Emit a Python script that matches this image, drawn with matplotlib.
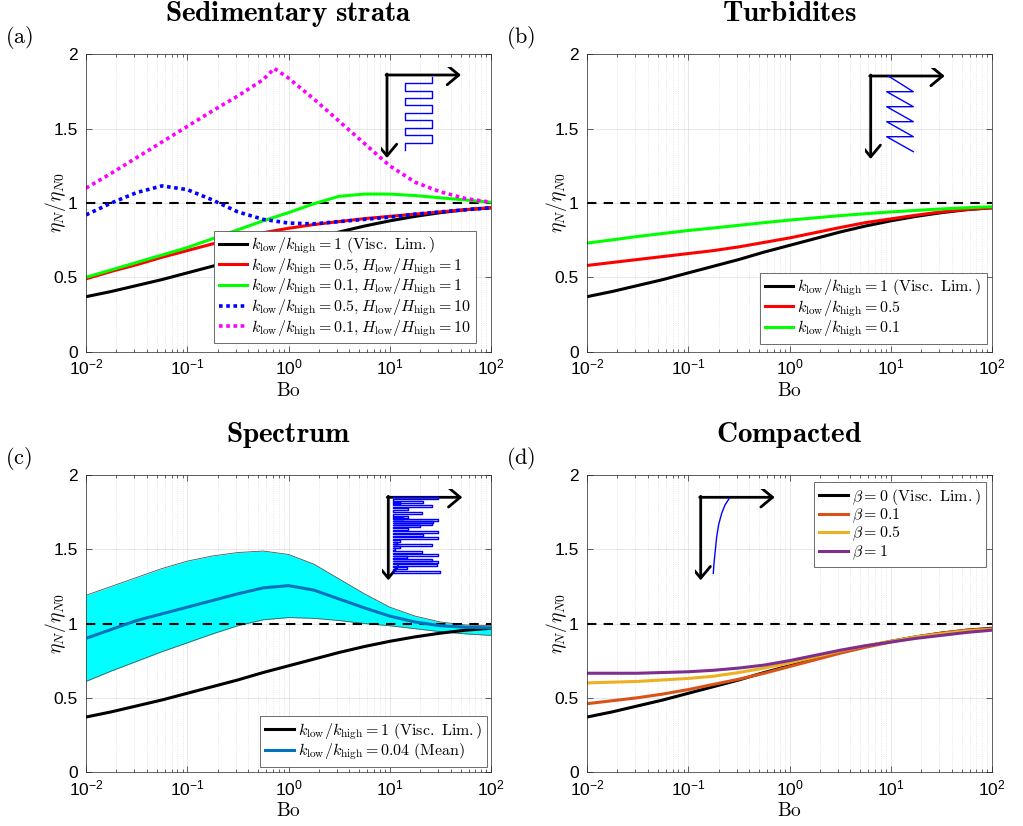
import numpy as np
import matplotlib
matplotlib.use('Agg')
import matplotlib.pyplot as plt
from matplotlib.ticker import LogLocator, NullFormatter
from matplotlib.patches import FancyArrowPatch

plt.rcParams['mathtext.fontset'] = 'cm'
plt.rcParams['mathtext.rm'] = 'Liberation Sans'
plt.rcParams['mathtext.it'] = 'Liberation Sans:italic'
plt.rcParams['mathtext.bf'] = 'Liberation Sans:bold'
plt.rcParams['axes.unicode_minus'] = False

# ---------------- data ----------------
log_bo = [-2, -1.75, -1.5, -1.25, -1, -0.75, -0.5, -0.25, 0, 0.25, 0.5, 0.75, 1, 1.25, 1.5, 1.75, 2]
visc_lim = [0.37, 0.405, 0.445, 0.485, 0.53, 0.575, 0.62, 0.67, 0.715, 0.76, 0.805, 0.845, 0.88, 0.91, 0.935, 0.955, 0.968]

# (a) Sedimentary strata
strata_r05_h1 = [0.49, 0.54, 0.585, 0.635, 0.68, 0.725, 0.765, 0.80, 0.83, 0.855, 0.875, 0.895, 0.91, 0.925, 0.94, 0.955, 0.968]
strata_r01_h1 = [0.50, 0.55, 0.60, 0.65, 0.70, 0.76, 0.82, 0.88, 0.935, 0.995, 1.045, 1.06, 1.06, 1.05, 1.035, 1.02, 1.005]
strata_r05_h10 = [0.92, 1.00, 1.07, 1.115, 1.09, 1.02, 0.94, 0.89, 0.865, 0.86, 0.875, 0.89, 0.905, 0.925, 0.94, 0.955, 0.968]
log_bo_m = [-2, -1.75, -1.5, -1.25, -1, -0.75, -0.5, -0.25, -0.14, 0, 0.25, 0.5, 0.75, 1, 1.25, 1.5, 1.75, 2]
strata_r01_h10 = [1.10, 1.20, 1.305, 1.41, 1.515, 1.62, 1.72, 1.83, 1.905, 1.84, 1.70, 1.55, 1.40, 1.25, 1.14, 1.075, 1.03, 1.005]

# (b) Turbidites
turb_r05 = [0.58, 0.60, 0.62, 0.64, 0.66, 0.68, 0.705, 0.735, 0.765, 0.80, 0.835, 0.868, 0.893, 0.918, 0.94, 0.956, 0.968]
turb_r01 = [0.73, 0.752, 0.775, 0.795, 0.815, 0.832, 0.85, 0.868, 0.885, 0.90, 0.915, 0.928, 0.94, 0.95, 0.96, 0.968, 0.975]

# (c) Spectrum
spec_upper = [1.19, 1.25, 1.31, 1.37, 1.42, 1.455, 1.478, 1.488, 1.465, 1.40, 1.30, 1.20, 1.11, 1.05, 1.01, 0.99, 0.985]
spec_mean = [0.90, 0.96, 1.02, 1.065, 1.11, 1.155, 1.20, 1.24, 1.255, 1.225, 1.165, 1.105, 1.05, 1.01, 0.985, 0.975, 0.97]
spec_lower = [0.61, 0.68, 0.745, 0.81, 0.87, 0.93, 0.985, 1.025, 1.04, 1.035, 1.02, 1.0, 0.985, 0.965, 0.945, 0.93, 0.92]

# (d) Compacted
comp_b01 = [0.46, 0.48, 0.50, 0.525, 0.555, 0.59, 0.625, 0.665, 0.71, 0.755, 0.80, 0.84, 0.875, 0.91, 0.935, 0.955, 0.965]
comp_b05 = [0.60, 0.605, 0.61, 0.62, 0.63, 0.645, 0.67, 0.70, 0.735, 0.775, 0.815, 0.85, 0.88, 0.91, 0.93, 0.95, 0.96]
comp_b1 = [0.665, 0.665, 0.665, 0.67, 0.675, 0.685, 0.70, 0.72, 0.75, 0.785, 0.82, 0.85, 0.875, 0.90, 0.92, 0.94, 0.955]

xtick_vals = [1e-2, 1e-1, 1e0, 1e1, 1e2]
xtick_labels = [r'$10^{-2}$', r'$10^{-1}$', r'$10^{0}$', r'$10^{1}$', r'$10^{2}$']
ytick_vals = [0, 0.5, 1, 1.5, 2]
ytick_labels = ['0', '0.5', '1', '1.5', '2']

# inset sketch data (relative pixel units, origin at arrow corner)
sq_levels = [-1.7, -8.3, -16, -22.7, -30, -37.7, -45, -52.7, -60, -67.7, -75]
saw_x = [17.6, 42.6, 16, 42.6, 16, 42.6, 16, 42.6, 16, 42.6]
saw_y = [0, -15.7, -15.7, -30.7, -30.7, -45.7, -45.7, -60.7, -60.7, -75.7]
spike_depth = [-1.0, -4.4, -6.0, -8.7, -12.0, -16.0, -19.4, -21.0, -22.7, -25.0, -27.0, -28.7, -31.4,
               -34.4, -37.7, -41.0, -43.4, -45.4, -47.4, -49.4, -51.4, -54.4, -57.7, -60.0, -62.7,
               -65.0, -67.7, -71.0, -74.4]
spike_len = [50, 35, 11.7, 43.3, 20, 33.3, 20, 15, 50, 45, 43.3, 31.7, 20, 50, 35, 50, 11.7, 8.3,
             43.3, 11.7, 6.7, 33.3, 50, 18.3, 43.3, 50, 48.3, 18.3, 51.7]
comp_curve_x = [12.6, 13.3, 14.3, 16, 18, 21, 24.3, 28.6]
comp_curve_y = [-76, -66, -56, -39.4, -27, -16, -7.7, -1]

# ---------------- figure ----------------
W, H = 1023, 826
fig = plt.figure(figsize=(W / 100, H / 100), dpi=100)

def px_axes(left, top, right, bottom):
    return fig.add_axes([left / W, 1 - bottom / H, (right - left) / W, (bottom - top) / H])

axA = px_axes(86, 54.3, 491, 351.7)
axB = px_axes(587, 54.3, 992, 351.7)
axC = px_axes(86, 475, 491, 772)
axD = px_axes(587, 475, 992, 772)

bo = 10 ** np.array(log_bo)
bo_m = 10 ** np.array(log_bo_m)

def style(ax, title, letter):
    ax.set_xscale('log')
    ax.set_xlim(1e-2, 1e2)
    ax.set_ylim(0, 2)
    ax.xaxis.set_minor_locator(LogLocator(base=10, subs=np.arange(2, 10)))
    ax.xaxis.set_minor_formatter(NullFormatter())
    ax.set_xticks(xtick_vals, xtick_labels, fontsize=12.5, family='Liberation Sans', math_fontfamily='custom')
    ax.set_yticks(ytick_vals, ytick_labels, fontsize=12.5, family='Liberation Sans')
    ax.tick_params(which='both', direction='in', top=True, right=True, color='#262626', width=0.5)
    ax.tick_params(which='major', length=4)
    ax.tick_params(axis='x', which='major', pad=4.5)
    ax.tick_params(axis='y', which='major', pad=6)
    ax.tick_params(which='minor', length=2)
    ax.grid(True, which='major', color='#262626', alpha=0.12, lw=0.6)
    ax.grid(True, which='minor', axis='x', color='#262626', alpha=0.15, lw=0.6, ls=':')
    ax.set_axisbelow(True)
    for s in ax.spines.values():
        s.set_color('#262626')
        s.set_linewidth(0.5)
    ax.set_xlabel(r'$\mathrm{Bo}$', fontsize=14, labelpad=2)
    ax.set_ylabel(r'$\eta_N/\eta_{N0}$', fontsize=14)
    ax.yaxis.set_label_coords(-0.045, 0.5)
    ax.set_title(r'$\mathbf{' + title.replace(' ', r'\ ') + '}$', fontsize=21, pad=24)
    ax.axhline(1, color='k', ls=(0, (4.5, 3.5)), lw=1.5, zorder=2)
    bb = ax.get_position()
    fig.text(bb.x0 - 81 / W, bb.y1 + 17 / H, r'$\mathrm{(' + letter + ')}$', fontsize=16, ha='left', va='center')

def legend(ax, **kw):
    leg = ax.legend(fontsize=11.5, frameon=True, fancybox=False, framealpha=1, edgecolor='#555555',
                    handlelength=1.8, handletextpad=0.25, labelspacing=0.0, borderpad=0.3,
                    borderaxespad=0, **kw)
    leg.get_frame().set_linewidth(0.6)
    return leg

def add_inset(ax, corner_x_frac, corner_y_frac, axw, axh):
    w = 86 / axw
    h = 98 / axh
    ins = ax.inset_axes([corner_x_frac - 6 / axw, corner_y_frac - 90 / axh, w, h])
    ins.set_xlim(-6, 80)
    ins.set_ylim(-90, 8)
    ins.axis('off')
    ins.patch.set_alpha(0)
    for (p0, p1) in [((-1, 0), (74, 0)), ((0, 1), (0, -83))]:
        ar = FancyArrowPatch(p0, p1, arrowstyle='->,head_length=0.6,head_width=0.5', lw=2.0,
                             color='k', shrinkA=0, shrinkB=0, mutation_scale=14)
        ins.add_patch(ar)
    return ins

lw = 2.2

# ---- (a)
style(axA, 'Sedimentary strata', 'a')
axA.plot(bo, visc_lim, color='k', lw=lw, label=r'$k_{\rm low}/k_{\rm high}=1\ \mathrm{(Visc.\ Lim.)}$')
axA.plot(bo, strata_r05_h1, color='#FF0000', lw=lw, label=r'$k_{\rm low}/k_{\rm high}=0.5, H_{\rm low}/H_{\rm high}=1$')
axA.plot(bo, strata_r01_h1, color='#00FF00', lw=lw, label=r'$k_{\rm low}/k_{\rm high}=0.1, H_{\rm low}/H_{\rm high}=1$')
axA.plot(bo, strata_r05_h10, color='#0000FF', lw=2.6, ls=(0, (1, 1)), label=r'$k_{\rm low}/k_{\rm high}=0.5, H_{\rm low}/H_{\rm high}=10$')
axA.plot(bo_m, strata_r01_h10, color='#FF00FF', lw=2.6, ls=(0, (1, 1)), label=r'$k_{\rm low}/k_{\rm high}=0.1, H_{\rm low}/H_{\rm high}=10$')
legend(axA, loc='lower right', bbox_to_anchor=(0.963, 0.028))
insA = add_inset(axA, (387 - 86) / 405, (351.7 - 75) / 297.4, 405, 297.4)
sx, sy = [45], [sq_levels[0]]
cur = 45
for i, lv in enumerate(sq_levels[1:]):
    sx.append(cur); sy.append(lv)
    if i < len(sq_levels) - 2:
        cur = 18 if cur == 45 else 45
        sx.append(cur); sy.append(lv)
insA.plot(sx, sy, color='#0000FF', lw=1.0)

# ---- (b)
style(axB, 'Turbidites', 'b')
axB.plot(bo, visc_lim, color='k', lw=lw, label=r'$k_{\rm low}/k_{\rm high}=1\ \mathrm{(Visc.\ Lim.)}$')
axB.plot(bo, turb_r05, color='#FF0000', lw=lw, label=r'$k_{\rm low}/k_{\rm high}=0.5$')
axB.plot(bo, turb_r01, color='#00FF00', lw=lw, label=r'$k_{\rm low}/k_{\rm high}=0.1$')
legend(axB, loc='lower right', bbox_to_anchor=(0.987, 0.026))
insB = add_inset(axB, (870.7 - 587) / 405, (351.7 - 76) / 297.4, 405, 297.4)
insB.plot(saw_x, saw_y, color='#0000FF', lw=1.0)

# ---- (c)
style(axC, 'Spectrum', 'c')
axC.fill_between(bo, spec_lower, spec_upper, color='#00FFFF', lw=0, zorder=1)
axC.plot(bo, spec_upper, color='#555555', lw=0.6, zorder=1.5)
axC.plot(bo, spec_lower, color='#555555', lw=0.6, zorder=1.5)
axC.plot(bo, visc_lim, color='k', lw=lw, label=r'$k_{\rm low}/k_{\rm high}=1\ \mathrm{(Visc.\ Lim.)}$', zorder=3)
axC.plot(bo, spec_mean, color='#0072BD', lw=lw, label=r'$k_{\rm low}/k_{\rm high}=0.04\ \mathrm{(Mean)}$', zorder=3)
legend(axC, loc='lower right', bbox_to_anchor=(0.99, 0.017))
insC = add_inset(axC, (388.3 - 86) / 405, (772 - 497.3) / 297, 405, 297)
base = 4.4
cx, cy = [base], [spike_depth[0] + 1.0]
for d, L in zip(spike_depth, spike_len):
    cx += [base, L, L, base]
    cy += [d + 1.0, d + 1.0, d - 1.0, d - 1.0]
insC.plot(cx, cy, color='#0000FF', lw=1.0)

# ---- (d)
style(axD, 'Compacted', 'd')
axD.plot(bo, visc_lim, color='k', lw=lw, label=r'$\beta=0\ \mathrm{(Visc.\ Lim.)}$')
axD.plot(bo, comp_b01, color='#D95319', lw=lw, label=r'$\beta=0.1$')
axD.plot(bo, comp_b05, color='#EDB120', lw=lw, label=r'$\beta=0.5$')
axD.plot(bo, comp_b1, color='#7E2F8E', lw=lw, label=r'$\beta=1$')
legend(axD, loc='upper right', bbox_to_anchor=(0.984, 0.977))
insD = add_inset(axD, (700.7 - 587) / 405, (772 - 497.3) / 297, 405, 297)
insD.plot(comp_curve_x, comp_curve_y, color='#0000FF', lw=1.0)

fig.savefig('out.png', dpi=100)
